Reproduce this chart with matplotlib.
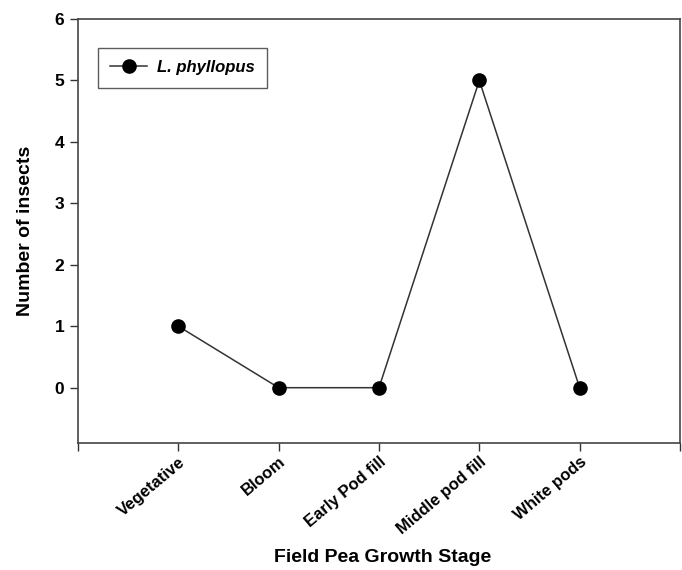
import matplotlib.pyplot as plt
import numpy as np

plt.rcParams['font.family'] = ['Liberation Sans', 'DejaVu Sans']

stages = ['Vegetative', 'Bloom', 'Early Pod fill', 'Middle pod fill', 'White pods']
insects = [1, 0, 0, 5, 0]

fig = plt.figure(figsize=(6.82, 5.7), dpi=100)
ax = fig.add_axes([0.1144, 0.2228, 0.8826, 0.7439])

x = np.arange(1, len(stages) + 1)
ax.plot(x, insects, color='#333333', lw=1.1, marker='o', ms=9.5,
        mfc='black', mec='black', label='L. phyllopus')

ax.set_xlim(0, 6)
ax.set_ylim(-0.9, 6)
ax.set_xticks(range(0, 7))
ax.set_xticklabels([''] + stages + [''], rotation=40, ha='right', va='top',
                   rotation_mode='anchor', fontsize=12, fontweight='bold')
ax.set_yticks(range(0, 7))
ax.set_yticklabels([str(v) for v in range(0, 7)], fontsize=12.5, fontweight='bold')
ax.tick_params(direction='out', length=6, width=1, color='#333333', pad=4)
ax.tick_params(axis='x', pad=2)

for s in ax.spines.values():
    s.set_color('#444444')
    s.set_linewidth(1.2)

ax.set_xlabel('Field Pea Growth Stage', fontsize=14, fontweight='bold', va='center')
ax.xaxis.set_label_coords(0.506, -0.271)
ax.set_ylabel('Number of insects', fontsize=14, fontweight='bold', va='center')
ax.yaxis.set_label_coords(-0.088, 0.5)

leg = ax.legend(loc='upper left', bbox_to_anchor=(0.033, 0.932), frameon=True,
                fancybox=False, edgecolor='#333333', borderpad=0.75,
                borderaxespad=0, handlelength=2.2, handletextpad=0.6,
                prop={'weight': 'bold', 'style': 'italic', 'size': 12})
leg.get_frame().set_linewidth(1.0)

fig.savefig('out.png', dpi=100)
